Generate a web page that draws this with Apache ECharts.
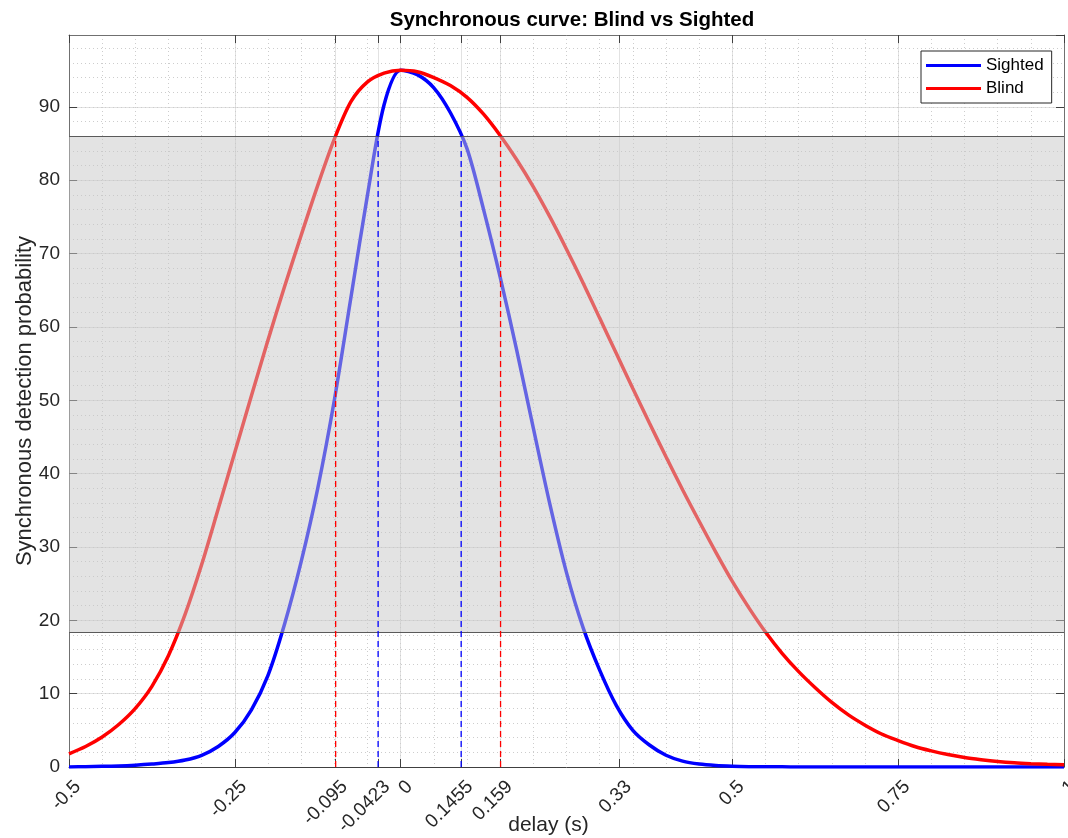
<!DOCTYPE html>
<html>
<head>
<meta charset="utf-8">
<title>Synchronous curve: Blind vs Sighted</title>
<script src="https://cdn.jsdelivr.net/npm/echarts@6/dist/echarts.min.js"></script>
<style>
  html, body { margin: 0; padding: 0; background: #fff; }
  #chart { width: 1068px; height: 838px; }
</style>
</head>
<body>
<div id="chart"></div>
<script>
const delay = [
  -0.5, -0.475, -0.45, -0.425, -0.4, -0.375, -0.35, -0.325, -0.3, -0.275,
  -0.25, -0.225, -0.2, -0.175, -0.15, -0.125, -0.1, -0.075, -0.05, -0.025,
  0, 0.025, 0.05, 0.075, 0.1, 0.125, 0.15, 0.175, 0.2, 0.225,
  0.25, 0.275, 0.3, 0.325, 0.35, 0.375, 0.4, 0.425, 0.45, 0.475,
  0.5, 0.525, 0.55, 0.575, 0.6, 0.625, 0.65, 0.675, 0.7, 0.725,
  0.75, 0.775, 0.8, 0.825, 0.85, 0.875, 0.9, 0.925, 0.95, 0.975, 1
]
const sightedProb = [
  0, 0.05, 0.1, 0.15, 0.25, 0.4, 0.6, 0.95, 1.6, 2.8,
  4.7, 7.8, 12.5, 19.5, 28.0, 38.0, 50.0, 64.0, 78.0, 90.3,
  95.0, 94.4, 92.6, 89.2, 84.3, 76.0, 66.8, 56.8, 46.2, 35.8,
  26.5, 19.0, 13.2, 8.4, 5.0, 3.0, 1.6, 0.8, 0.4, 0.2,
  0.1, 0.05, 0.03, 0.02, 0, 0, 0, 0, 0, 0,
  0, 0, 0, 0, 0, 0, 0, 0, 0, 0, 0
]
const blindProb = [
  1.8, 2.8, 4.1, 5.8, 8.0, 11.0, 15.2, 20.8, 27.6, 35.2,
  42.9, 50.6, 58.2, 65.5, 72.5, 79.3, 85.6, 90.7, 93.4, 94.6,
  95.0, 94.8, 94.0, 92.9, 91.3, 89.0, 86.1, 82.8, 79.1, 75.0,
  70.6, 66.0, 61.2, 56.4, 51.6, 46.9, 42.3, 37.8, 33.5, 29.3,
  25.3, 21.7, 18.4, 15.5, 13.0, 10.8, 8.8, 7.1, 5.7, 4.5,
  3.6, 2.8, 2.2, 1.7, 1.3, 1.0, 0.75, 0.57, 0.45, 0.36, 0.3
]

// shaded band and the crossing markers
const bandLow = 18.4
const bandHigh = 86
const sightedCross = [-0.034, 0.0912]
const blindCross = [-0.098, 0.1506]

// x ticks: where they sit and the text printed under them
const xTickPos = [-0.5, -0.25, -0.098, -0.034, 0, 0.0912, 0.1506, 0.33, 0.5, 0.75, 1]
const xTickLabels = ['-0.5', '-0.25', '-0.095', '-0.0423', '0', '0.1455', '0.159', '0.33', '0.5', '0.75', '1']

const FONT = '"Liberation Sans", Arial, Helvetica, sans-serif'
const TXT = '#262626'
const BLUE = '#0000ff'
const RED = '#ff0000'

const pairs = (xs, ys) => xs.map((x, i) => [x, ys[i]])

// vertical dashed line from 0 up to the band top, one small series each
const crossSeries = (xs, color) => xs.map(x => ({
  type: 'line', z: 12, silent: true,
  data: [[x, 0], [x, bandHigh]],
  showSymbol: false, symbol: 'none',
  itemStyle: { color: color },
  lineStyle: { color: color, width: 1.3, type: [6, 4] }
}))

const xLabel = (v) => {
  let best = 0
  xTickPos.forEach((p, i) => { if (Math.abs(p - v) < Math.abs(xTickPos[best] - v)) best = i })
  return xTickLabels[best]
}

const chart = echarts.init(document.getElementById('chart'))

chart.setOption({
  animation: false,
  backgroundColor: '#fff',
  title: {
    text: 'Synchronous curve: Blind vs Sighted',
    left: 567,
    top: 5,
    textAlign: 'center',
    textStyle: { fontFamily: FONT, fontSize: 20.5, fontWeight: 'bold', color: '#000' }
  },
  legend: {
    data: ['Sighted', 'Blind'],
    orient: 'vertical',
    left: 921,
    top: 51,
    icon: 'rect',
    itemWidth: 55,
    itemHeight: 3,
    itemGap: 6,
    padding: [6, 8, 6, 5],
    borderColor: '#262626',
    borderWidth: 1,
    backgroundColor: '#fff',
    textStyle: { fontFamily: FONT, fontSize: 17, color: '#000' }
  },
  grid: { left: 69, right: 4, top: 35, bottom: 71, outerBoundsMode: 'none', containLabel: false },
  xAxis: [
    {
      type: 'value', min: -0.5, max: 1, position: 'bottom',
      name: 'delay (s)', nameLocation: 'middle', nameGap: 48, nameMoveOverlap: false,
      nameTextStyle: { fontFamily: FONT, fontSize: 21, color: TXT, padding: [0, 36, 0, 0] },
      axisLine: { show: true, onZero: false, lineStyle: { color: '#404040', width: 1 } },
      axisTick: { show: true, inside: true, length: 8, customValues: xTickPos, lineStyle: { color: '#404040' } },
      axisLabel: {
        customValues: xTickPos, rotate: 45, margin: 8, verticalAlign: 'top', padding: [3, 0, 0, 0],
        fontFamily: FONT, fontSize: 19, color: TXT, formatter: xLabel
      },
      splitLine: { show: true, lineStyle: { color: '#e2e2e2', width: 1 } }
    },
    {
      type: 'value', min: -0.5, max: 1, position: 'top',
      axisLine: { show: true, onZero: false, lineStyle: { color: '#707070', width: 1 } },
      axisTick: { show: true, inside: true, length: 8, customValues: xTickPos, lineStyle: { color: '#404040' } },
      axisLabel: { show: false },
      splitLine: { show: false }
    },
    {
      // minor grid every 0.05
      type: 'value', min: -0.5, max: 1, interval: 0.05, position: 'bottom',
      axisLine: { show: false }, axisTick: { show: false }, axisLabel: { show: false },
      splitLine: { show: true, lineStyle: { color: '#cdcdcd', width: 1, type: [1, 3] } }
    }
  ],
  yAxis: [
    {
      type: 'value', min: 0, max: 99.8, interval: 10, position: 'left',
      name: 'Synchronous detection probability', nameLocation: 'middle', nameGap: 33, nameMoveOverlap: false,
      nameTextStyle: { fontFamily: FONT, fontSize: 22, color: TXT },
      axisLine: { show: true, onZero: false, lineStyle: { color: '#707070', width: 1 } },
      axisTick: { show: true, inside: true, length: 8, lineStyle: { color: '#404040' } },
      axisLabel: { margin: 9, fontFamily: FONT, fontSize: 19, color: TXT, showMaxLabel: false },
      splitLine: { show: true, lineStyle: { color: '#e2e2e2', width: 1 } }
    },
    {
      type: 'value', min: 0, max: 99.8, interval: 10, position: 'right',
      axisLine: { show: true, onZero: false, lineStyle: { color: '#707070', width: 1 } },
      axisTick: { show: true, inside: true, length: 8, lineStyle: { color: '#404040' } },
      axisLabel: { show: false },
      splitLine: { show: false }
    },
    {
      // minor grid every 2
      type: 'value', min: 0, max: 99.8, interval: 2, position: 'left',
      axisLine: { show: false }, axisTick: { show: false }, axisLabel: { show: false },
      splitLine: { show: true, lineStyle: { color: '#cdcdcd', width: 1, type: [1, 3] } }
    }
  ],
  series: [
    {
      name: 'Sighted', type: 'line', z: 3,
      data: pairs(delay, sightedProb),
      showSymbol: false, symbol: 'none',
      smooth: 0.3,
      itemStyle: { color: BLUE },
      lineStyle: { color: BLUE, width: 3.5 }
    },
    {
      name: 'Blind', type: 'line', z: 4,
      data: pairs(delay, blindProb),
      showSymbol: false, symbol: 'none',
      smooth: 0.3,
      itemStyle: { color: RED },
      lineStyle: { color: RED, width: 3.5 }
    },
    {
      name: 'band', type: 'line', z: 10, data: [],
      markArea: {
        z: 10, silent: true,
        itemStyle: { color: 'rgba(200,200,200,0.5)' },
        data: [[{ yAxis: bandLow }, { yAxis: bandHigh }]]
      },
      markLine: {
        z: 11, silent: true, symbol: ['none', 'none'], label: { show: false },
        lineStyle: { color: '#5a5a5a', width: 1.2, type: 'solid' },
        data: [{ yAxis: bandLow }, { yAxis: bandHigh }]
      }
    }
  ].concat(crossSeries(sightedCross, BLUE), crossSeries(blindCross, RED))
})

window.addEventListener('resize', () => chart.resize())
</script>
</body>
</html>
